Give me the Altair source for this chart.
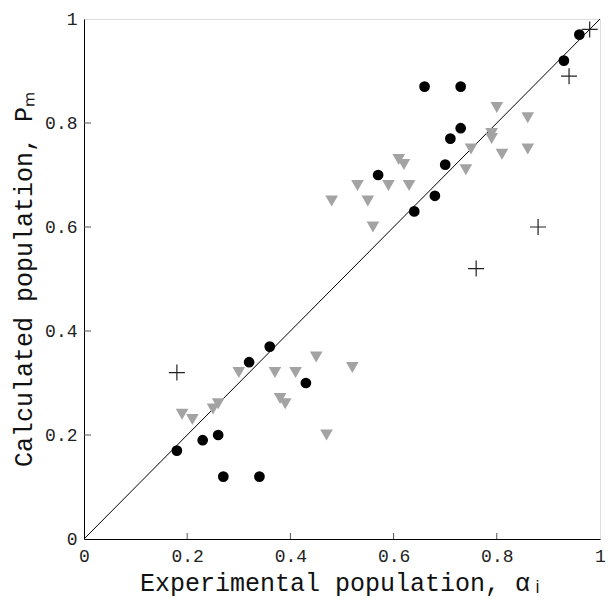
import altair as alt
import pandas as pd

# Black circles
circ_x = [0.96, 0.93, 0.66, 0.73, 0.73, 0.71, 0.70, 0.57, 0.68, 0.64,
          0.36, 0.32, 0.43, 0.18, 0.23, 0.26, 0.27, 0.34]
circ_y = [0.97, 0.92, 0.87, 0.87, 0.79, 0.77, 0.72, 0.70, 0.66, 0.63,
          0.37, 0.34, 0.30, 0.17, 0.19, 0.20, 0.12, 0.12]

# Gray down-triangles
tri_x = [0.45, 0.52, 0.30, 0.37, 0.41, 0.38, 0.39, 0.26, 0.25, 0.19, 0.21, 0.47,
         0.48, 0.55, 0.56, 0.53, 0.59, 0.63, 0.61, 0.62,
         0.80, 0.86, 0.79, 0.79, 0.75, 0.86, 0.81, 0.74]
tri_y = [0.35, 0.33, 0.32, 0.32, 0.32, 0.27, 0.26, 0.26, 0.25, 0.24, 0.23, 0.20,
         0.65, 0.65, 0.60, 0.68, 0.68, 0.68, 0.73, 0.72,
         0.83, 0.81, 0.78, 0.77, 0.75, 0.75, 0.74, 0.71]

# Plus markers
plus_x = [0.98, 0.94, 0.88, 0.76, 0.18]
plus_y = [0.98, 0.89, 0.60, 0.52, 0.32]

# Diagonal y = x
diag_x = [0, 1]
diag_y = [0, 1]

tick_vals = [0.2, 0.4, 0.6, 0.8]

W, H = 516, 520
FONT = "Liberation Mono"

label_expr = "datum.value == 0 ? '0' : datum.value == 1 ? '1' : format(datum.value, '.1f')"

xaxis = alt.Axis(values=[0, 0.2, 0.4, 0.6, 0.8, 1], labelExpr=label_expr, ticks=False,
                 grid=False, labelFont=FONT, labelFontSize=18, labelColor="#222",
                 labelPadding=8, titleFont=FONT, titleFontSize=25, titleFontWeight="normal",
                 titleColor="#111", titlePadding=5, domainColor="#000", labelFlush=False)
yaxis = alt.Axis(values=[0, 0.2, 0.4, 0.6, 0.8, 1], labelExpr=label_expr, ticks=False,
                 grid=False, labelFont=FONT, labelFontSize=18, labelColor="#222",
                 labelPadding=7, titleFont=FONT, titleFontSize=25, titleFontWeight="normal",
                 titleColor="#111", titlePadding=8, domainColor="#000", labelFlush=False)

xtitle = "Experimental population, α\u1d62"
ytitle = "Calculated population, P\u2098"

xs = alt.Scale(domain=[0, 1], nice=False, zero=False)
ys = alt.Scale(domain=[0, 1], nice=False, zero=False)


def X(f="x"):
    return alt.X(f"{f}:Q", scale=xs, axis=xaxis, title=xtitle)


def Y(f="y"):
    return alt.Y(f"{f}:Q", scale=ys, axis=yaxis, title=ytitle)


diag = pd.DataFrame({"x": diag_x, "y": diag_y})
circ = pd.DataFrame({"x": circ_x, "y": circ_y})
tri = pd.DataFrame({"x": tri_x, "y": tri_y})
plus = pd.DataFrame({"x": plus_x, "y": plus_y})
ticks = pd.DataFrame({"x": tick_vals, "y": tick_vals})

line = alt.Chart(diag).mark_line(color="#000", strokeWidth=1).encode(x=X(), y=Y())
tris = alt.Chart(tri).mark_point(shape="triangle-down", filled=True, size=160,
                                 color="#a3a3a3", opacity=1).encode(x=X(), y=Y())
circs = alt.Chart(circ).mark_point(shape="circle", filled=True, size=115,
                                   color="#000", opacity=1).encode(x=X(), y=Y())
pluses = alt.Chart(plus).mark_point(shape="M-1,0L1,0M0,-1L0,1", filled=False, size=256,
                                    color="#222", strokeWidth=1.2, opacity=1).encode(x=X(), y=Y())
xticks = alt.Chart(ticks).mark_rule(color="#555", strokeWidth=1).encode(
    x=X(), y=alt.value(H), y2=alt.value(H - 6))
yticks = alt.Chart(ticks).mark_rule(color="#555", strokeWidth=1).encode(
    y=Y(), x=alt.value(0), x2=alt.value(7))

chart = alt.layer(line, tris, circs, pluses, xticks, yticks).properties(
    width=W, height=H,
    autosize=alt.AutoSizeParams(type="none"),
    padding={"left": 76, "top": 11, "right": 6, "bottom": 62},
).configure_view(stroke="#777", strokeWidth=1).configure(background="white")

chart.save("out.html", embed_options={"renderer": "svg", "actions": False})
